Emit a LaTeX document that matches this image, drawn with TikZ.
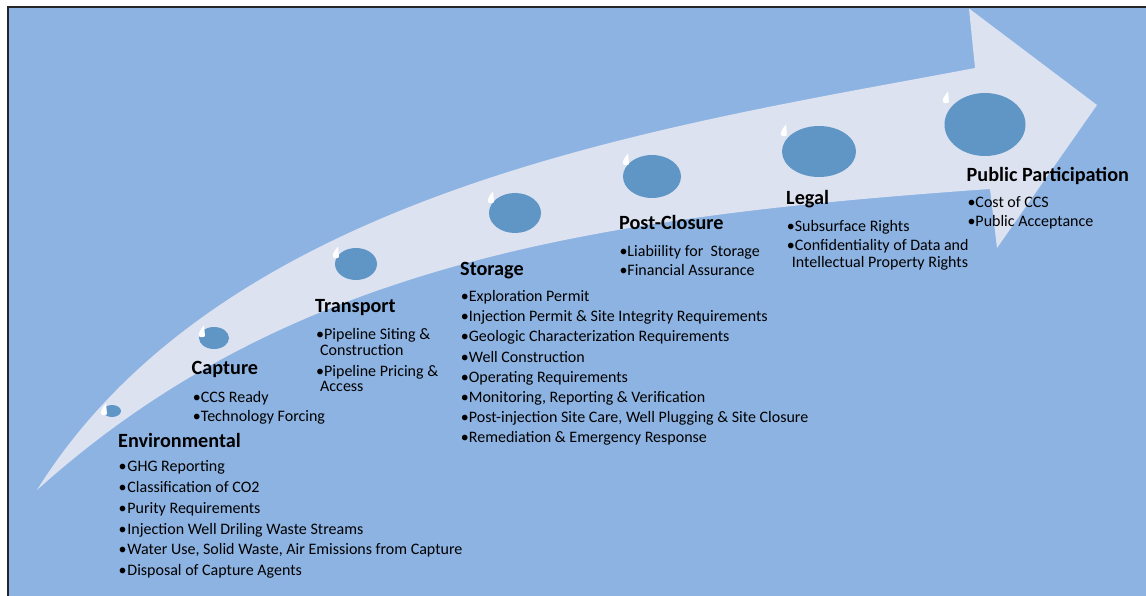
\documentclass[tikz,border=0pt]{standalone}
\usepackage{fontspec}
\setmainfont{Carlito}
\definecolor{bgblue}{HTML}{8DB3E2}
\definecolor{arrowc}{HTML}{DCE2F0}
\definecolor{dotc}{HTML}{5F96C6}
\begin{document}
\begin{tikzpicture}[x=1pt,y=-1pt,
  head/.style={font=\fontsize{20.2}{22}\selectfont\bfseries, anchor=base west, inner sep=0pt},
  item/.style={font=\fontsize{16}{18}\selectfont, anchor=base west, inner sep=0pt},
  dot/.style={fill=dotc},
  glint/.style={fill=white}]
\useasboundingbox (0,0) rectangle (1146,596);
\fill[white] (0,0) rectangle (1146,596);
\fill[bgblue] (8,7.5) rectangle (1146,596);
\draw[line width=2pt, black!85] (8,596) -- (8,7.5) -- (1146,7.5);
% arrow
\fill[arrowc] (37,490) .. controls (227,186) and (675,125) .. (975,68)
  -- (969,8.5) -- (1097,105) -- (997,248) -- (990,189)
  .. controls (590,217) and (287,265) .. (37,490) -- cycle;
% dots
\fill[dot] (112,411) ellipse [x radius=9pt, y radius=6pt];
\fill[dot] (214,338) ellipse [x radius=15pt, y radius=11pt];
\fill[dot] (356,264) ellipse [x radius=21pt, y radius=16pt];
\fill[dot] (515,213) ellipse [x radius=26pt, y radius=20pt];
\fill[dot] (652,176.5) ellipse [x radius=29pt, y radius=21.5pt];
\fill[dot] (819,151.5) ellipse [x radius=37pt, y radius=25.5pt];
\fill[dot] (985,124.5) ellipse [x radius=40.5pt, y radius=31.5pt];
% glints
\foreach \cx/\cy in {104/409, 202/331, 336/252, 491/197, 626/159, 784/130, 946/97}
  \fill[glint] ({\cx+2},{\cy-5.5}) .. controls ({\cx-1},{\cy-2}) and ({\cx-4},{\cy+2}) .. ({\cx-3},{\cy+5})
     .. controls ({\cx-2},{\cy+6.5}) and ({\cx+2},{\cy+6.5}) .. ({\cx+3},{\cy+5}) -- cycle;
% headings
\node[head] (envh) at (118,447.7) {Environmental};
\node[head] (caph) at (191.5,374.3) {Capture};
\node[head] (trah) at (315,312.7) {Transport};
\node[head] (stoh) at (460,275) {Storage};
\node[head] (posh) at (619,229.3) {Post-Closure};
\node[head] (legh) at (786,204.5) {Legal};
\node[head] (pubh) at (966.5,181.7) {Public Participation};
% environmental items
\foreach \t [count=\i] in {GHG Reporting, Classification of CO2, Purity Requirements, Injection Well Driling Waste Streams, {Water Use, Solid Waste, Air Emissions from Capture}, Disposal of Capture Agents}
  \node[item] (env\i) at (118.3,{471.7+20.8*(\i-1)}) {•\hspace{1pt}\t};
% capture
\node[item] (cap1) at (192.7,402.7) {•CCS Ready};
\node[item] (cap2) at (192.7,421) {•Technology Forcing};
% transport
\node[item] (tra1) at (316,339) {•Pipeline Siting \&};
\node[item] (tra1b) at (320,355) {Construction};
\node[item] (tra2) at (316,376) {•Pipeline Pricing \&};
\node[item] (tra2b) at (320,391.7) {Access};
% storage
\foreach \t [count=\i] in {Exploration Permit, Injection Permit \& Site Integrity Requirements, Geologic Characterization Requirements, Well Construction, Operating Requirements, {Monitoring, Reporting \& Verification}, {Post-injection Site Care, Well Plugging \& Site Closure}, Remediation \& Emergency Response}
  \node[item] (sto\i) at (460.7,{301.7+20.14*(\i-1)}) {•\t};
% post-closure
\node[item] (pos1) at (619.3,256) {•Liabiility for~ Storage};
\node[item] (pos2) at (619.3,275) {•Financial Assurance};
% legal
\node[item] (leg1) at (786.7,231.7) {•Subsurface Rights};
\node[item] (leg2) at (786.7,250.7) {•Confidentiality of Data and};
\node[item] (leg2b) at (791.7,267.3) {Intellectual Property Rights};
% public
\node[item] (pub1) at (967.3,207.3) {•Cost of CCS};
\node[item] (pub2) at (967.3,226.7) {•Public Acceptance};
\end{tikzpicture}
\end{document}
